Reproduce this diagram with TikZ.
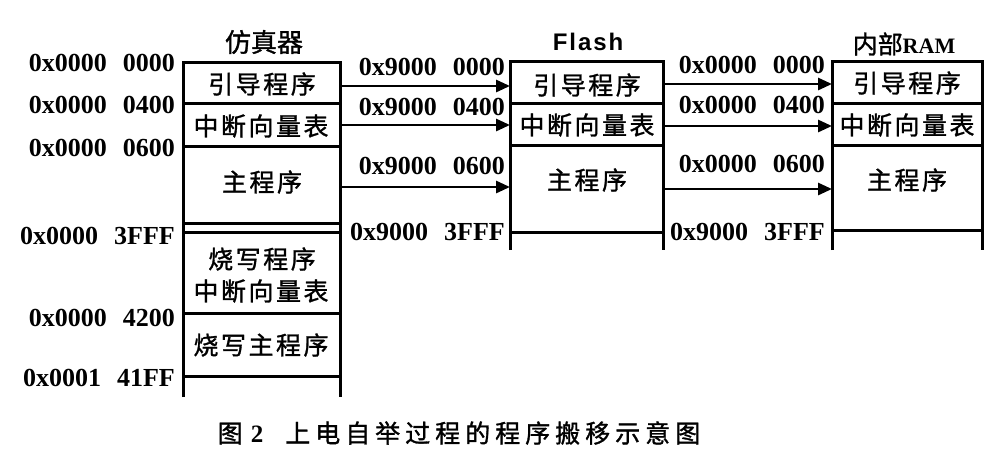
\documentclass[tikz,border=0pt]{standalone}
\usepackage{fontspec}
\setmainfont{Liberation Serif}
\newfontfamily\cjk[FakeBold=1.2]{Noto Sans CJK SC}
\newfontfamily\cjksp[LetterSpace=10,FakeBold=1.2]{Noto Sans CJK SC}
\newfontfamily\cjkcap[LetterSpace=20,FakeBold=1.2]{Noto Sans CJK SC}
\newfontfamily\sansbold[LetterSpace=8]{Liberation Sans}
\usetikzlibrary{arrows.meta}
\begin{document}
\begin{tikzpicture}[x=1pt,y=-1pt,
  boxline/.style={line width=3pt},
  arr/.style={line width=2.8pt,-{Triangle[length=14pt,width=12pt]}},
  addr/.style={anchor=east,inner sep=0pt,font=\bfseries\fontsize{26}{26}\selectfont},
  lab/.style={inner sep=0pt,font=\cjksp\fontsize{25}{25}\selectfont},
  ttl/.style={inner sep=0pt,font=\cjk\fontsize{26}{26}\selectfont},
]
\useasboundingbox[fill=white] (0,0) rectangle (1000,475);

% ---------- column 1 (emulator) ----------
\draw[boxline] (183,397) -- (183,62) -- (340,62) -- (340,397);
\foreach \y in {103,146,223,232,313,376} \draw[boxline] (183,\y) -- (340,\y);
\node[ttl] (t1) at (264,42) {仿真器};
\node[lab] (e1) at (262,84) {引导程序};
\node[lab] (e2) at (261,126) {中断向量表};
\node[lab] (e3) at (262,182) {主程序};
\node[lab] (e4) at (262,259) {烧写程序};
\node[lab] (e5) at (261,291) {中断向量表};
\node[lab] (e6) at (261,345) {烧写主程序};
\node[addr] (a1) at (175,63) {0x0000\hspace{16pt}0000};
\node[addr] (a2) at (175,105) {0x0000\hspace{16pt}0400};
\node[addr] (a3) at (175,148) {0x0000\hspace{16pt}0600};
\node[addr] (a4) at (175,236) {0x0000\hspace{16pt}3FFF};
\node[addr] (a5) at (175,318) {0x0000\hspace{16pt}4200};
\node[addr] (a6) at (175,378) {0x0001\hspace{16pt}41FF};

% ---------- column 2 (Flash) ----------
\draw[boxline] (510,250) -- (510,61) -- (663,61) -- (663,250);
\foreach \y in {103,145,232} \draw[boxline] (510,\y) -- (663,\y);
\node[inner sep=0pt,font=\sansbold\bfseries\fontsize{24}{24}\selectfont] (t2) at (588,42) {Flash};
\node[lab] (f1) at (587,85) {引导程序};
\node[lab] (f2) at (587,125) {中断向量表};
\node[lab] (f3) at (587,180) {主程序};
\node[addr] (b1) at (505,67) {0x9000\hspace{16pt}0000};
\node[addr] (b2) at (505,107) {0x9000\hspace{16pt}0400};
\node[addr] (b3) at (505,166) {0x9000\hspace{16pt}0600};
\node[addr] (b4) at (505,232) {0x9000\hspace{16pt}3FFF};

% ---------- column 3 (internal RAM) ----------
\draw[boxline] (832,250) -- (832,61) -- (982,61) -- (982,250);
\foreach \y in {103,145,230} \draw[boxline] (832,\y) -- (982,\y);
\node[inner sep=0pt] (t3) at (904,44) {{\cjk\fontsize{25}{25}\selectfont 内部}{\bfseries\fontsize{22}{22}\selectfont RAM}};
\node[lab] (r1) at (907,83) {引导程序};
\node[lab] (r2) at (907,125) {中断向量表};
\node[lab] (r3) at (907,180) {主程序};
\node[addr] (c1) at (825,65) {0x0000\hspace{16pt}0000};
\node[addr] (c2) at (825,105) {0x0000\hspace{16pt}0400};
\node[addr] (c3) at (825,164) {0x0000\hspace{16pt}0600};
\node[addr] (c4) at (825,232) {0x9000\hspace{16pt}3FFF};

% ---------- arrows ----------
\coordinate (p1) at (340,86);  \coordinate (q1) at (510,86);
\coordinate (p2) at (340,125); \coordinate (q2) at (510,125);
\coordinate (p3) at (340,187); \coordinate (q3) at (510,187);
\coordinate (u1) at (663,84);  \coordinate (v1) at (832,84);
\coordinate (u2) at (663,126); \coordinate (v2) at (832,126);
\coordinate (u3) at (663,189); \coordinate (v3) at (832,189);
\draw[arr] (p1) -- (q1);
\draw[arr] (p2) -- (q2);
\draw[arr] (p3) -- (q3);
\draw[arr] (u1) -- (v1);
\draw[arr] (u2) -- (v2);
\draw[arr] (u3) -- (v3);

% ---------- caption ----------
\node[inner sep=0pt,font=\fontsize{25}{25}\selectfont] (cap) at (459,433)
  {{\cjk 图}\hspace{8pt}{\bfseries 2}\hspace{22pt}{\cjkcap 上电自举过程的程序搬移示意图}};
\end{tikzpicture}
\end{document}
